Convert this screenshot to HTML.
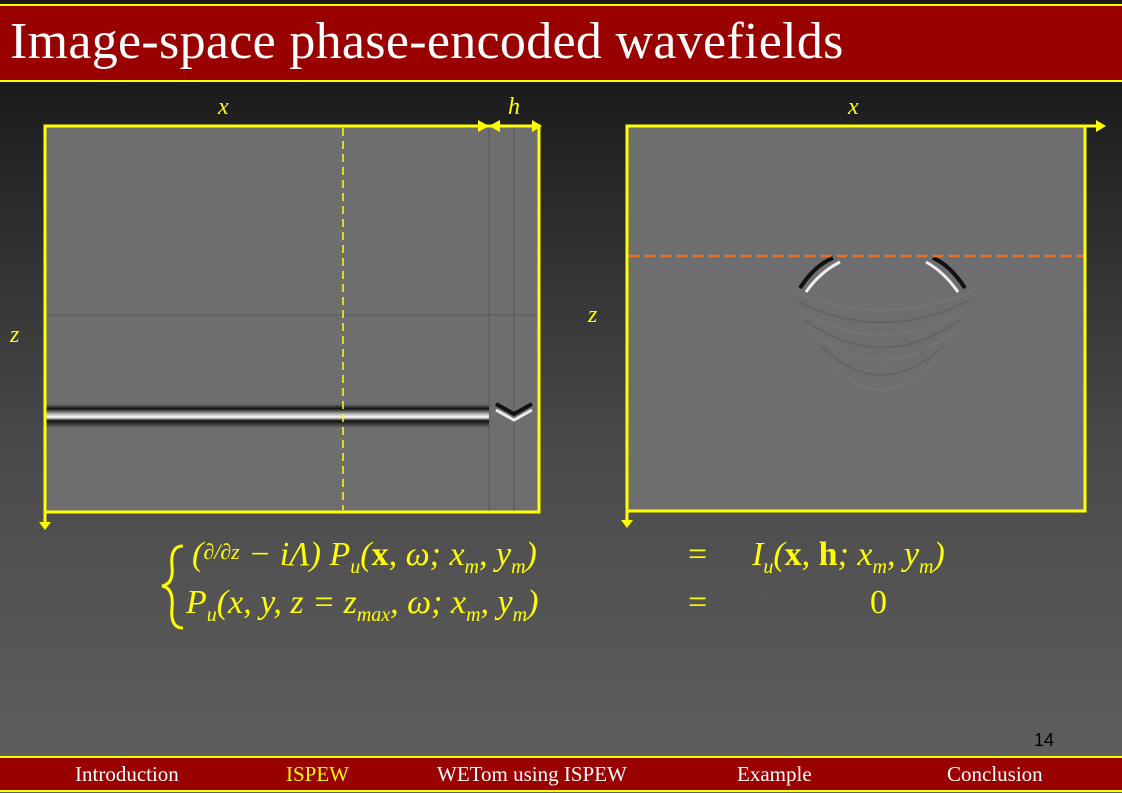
<!DOCTYPE html>
<html><head><meta charset="utf-8"><style>
body{margin:0;width:1122px;height:793px;overflow:hidden;background:linear-gradient(#1a1a1a 0px,#1c1c1c 90px,#4a4a4a 450px,#606060 793px);font-family:"Liberation Serif",serif;position:relative}
.t{position:absolute;left:0;top:4px;width:1122px;height:74px;background:#990000;border-top:2px solid #ff0;border-bottom:2px solid #ff0}
.t span{position:absolute;left:10px;top:6px;font-size:52px;color:#fff;letter-spacing:0.3px}
.f{position:absolute;left:0;top:756px;width:1122px;height:32px;background:#990000;border-top:2px solid #ff0;border-bottom:2px solid #ff0}
.f span{position:absolute;top:4px;font-size:21px;color:#fff}
.eq{position:absolute;color:#ff0;font-style:italic;font-size:34px;white-space:nowrap}
</style></head><body>
<div class="t"><span>Image-space phase-encoded wavefields</span></div>
<svg width="1122" height="793" style="position:absolute;left:0;top:0">
<defs>
<linearGradient id="ev" x1="0" y1="0" x2="0" y2="1">
<stop offset="0" stop-color="#6e6e6e"/><stop offset=".2" stop-color="#111"/><stop offset=".4" stop-color="#aaa"/><stop offset=".55" stop-color="#fff"/><stop offset=".7" stop-color="#111"/><stop offset="1" stop-color="#6e6e6e"/>
</linearGradient>
</defs>
<rect x="45" y="126" width="494" height="386" fill="#6e6e6e"/>
<line x1="45" y1="315" x2="539" y2="315" stroke="#5a5a5a"/>
<line x1="489" y1="126" x2="489" y2="512" stroke="#555"/>
<line x1="514" y1="126" x2="514" y2="512" stroke="#555"/>
<rect x="45" y="404" width="444" height="24" fill="url(#ev)"/>
<path d="M496 404 L514 414 L532 404" stroke="#111" stroke-width="4" fill="none"/>
<path d="M496 410 L514 420 L532 410" stroke="#eee" stroke-width="3" fill="none"/>
<line x1="343" y1="128" x2="343" y2="510" stroke="#ff0" stroke-width="1.5" stroke-dasharray="8,5"/>
<rect x="45" y="126" width="494" height="386" fill="none" stroke="#ff0" stroke-width="3"/>
<line x1="45" y1="126" x2="45" y2="528" stroke="#ff0" stroke-width="3"/>
<path d="M39 522 L45 530 L51 522Z" fill="#ff0"/>
<path d="M478 120 L489 126 L478 132Z M500 120 L489 126 L500 132Z M532 120 L542 126 L532 132Z" fill="#ff0"/>
<rect x="627" y="126" width="458" height="385" fill="#6e6e6e"/>
<g fill="none" stroke="#777" stroke-width="1.5" opacity=".8">
<path d="M790 290 Q880 330 975 290"/><path d="M800 310 Q880 360 965 310"/><path d="M810 330 Q880 390 955 330"/><path d="M830 360 Q880 420 935 360"/>
</g>
<g fill="none" stroke="#5e5e5e" stroke-width="1.5" opacity=".8">
<path d="M795 300 Q880 345 970 300"/><path d="M805 320 Q880 375 960 320"/><path d="M820 345 Q880 405 945 345"/>
</g>
<path d="M800 288 Q815 265 833 258" stroke="#111" stroke-width="4" fill="none"/>
<path d="M806 292 Q820 272 840 262" stroke="#eee" stroke-width="3" fill="none"/>
<path d="M965 288 Q950 265 933 258" stroke="#111" stroke-width="4" fill="none"/>
<path d="M958 292 Q944 272 926 262" stroke="#eee" stroke-width="3" fill="none"/>
<line x1="629" y1="256" x2="1085" y2="256" stroke="#f07020" stroke-width="2.5" stroke-dasharray="10,6"/>
<rect x="627" y="126" width="458" height="385" fill="none" stroke="#ff0" stroke-width="3"/>
<line x1="627" y1="126" x2="627" y2="526" stroke="#ff0" stroke-width="3"/>
<path d="M621 520 L627 528 L633 520Z" fill="#ff0"/>
<line x1="1085" y1="126" x2="1100" y2="126" stroke="#ff0" stroke-width="3"/>
<path d="M1096 120 L1106 126 L1096 132Z" fill="#ff0"/>
<g fill="#ff0" font-family="Liberation Serif" font-style="italic" font-size="24">
<text x="218" y="114">x</text><text x="508" y="114">h</text><text x="848" y="114">x</text>
<text x="10" y="342">z</text><text x="588" y="322">z</text>
</g>
<path d="M183 546 Q170 546 172 566 Q174 584 162 586 Q174 588 172 608 Q170 628 183 628" stroke="#ff0" stroke-width="3" fill="none"/>
</svg>
<div class="eq" style="left:192px;top:536px">(<span style="font-size:22px;position:relative;top:-6px">∂/∂z</span> − iΛ) P<sub style="font-size:20px">u</sub>(<b style="font-style:normal">x</b>, ω; x<sub style="font-size:20px">m</sub>, y<sub style="font-size:20px">m</sub>)</div>
<div class="eq" style="left:688px;top:536px;font-style:normal">=</div>
<div class="eq" style="left:752px;top:536px">I<sub style="font-size:20px">u</sub>(<b style="font-style:normal">x</b>, <b style="font-style:normal">h</b>; x<sub style="font-size:20px">m</sub>, y<sub style="font-size:20px">m</sub>)</div>
<div class="eq" style="left:186px;top:584px">P<sub style="font-size:20px">u</sub>(x, y, z = z<sub style="font-size:20px">max</sub>, ω; x<sub style="font-size:20px">m</sub>, y<sub style="font-size:20px">m</sub>)</div>
<div class="eq" style="left:688px;top:584px;font-style:normal">=</div>
<div class="eq" style="left:870px;top:584px;font-style:normal">0</div>
<div style="position:absolute;left:1034px;top:730px;font-family:'Liberation Sans',sans-serif;font-size:18px;color:#000">14</div>
<div class="f"><span style="left:75px">Introduction</span><span style="left:286px;color:#ff0">ISPEW</span><span style="left:437px">WETom using ISPEW</span><span style="left:737px">Example</span><span style="left:947px">Conclusion</span></div>
</body></html>
